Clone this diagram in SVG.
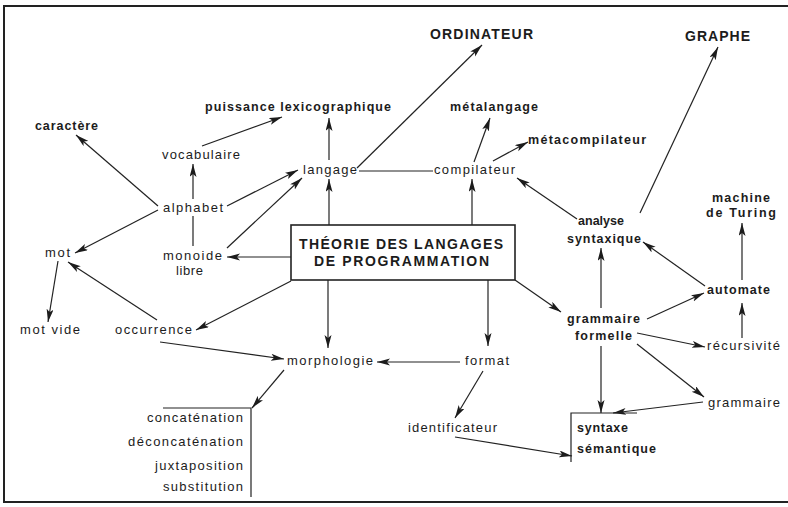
<svg xmlns="http://www.w3.org/2000/svg" width="788" height="507" viewBox="0 0 788 507">
<style>
  text { font-family: "Liberation Sans", Arial, sans-serif; font-size: 13px; fill: #1c1c1c; }
  .b { font-weight: bold; font-size: 12.5px; }
  .cap { font-weight: bold; font-size: 14px; }
  .c line, .c path { stroke: #222; stroke-width: 1.2; fill: none; }
  .a { marker-end: url(#ah); }
  .frame { stroke: #222; stroke-width: 2; fill: none; }
  .brk { stroke: #222; stroke-width: 1.2; fill: none; }
</style>
<defs>
  <marker id="ah" markerUnits="userSpaceOnUse" markerWidth="15" markerHeight="8" refX="13" refY="3.5" orient="auto">
    <path d="M0,0 L13,3.5 L0,7 L3,3.5 z" fill="#1c1c1c"/>
  </marker>
</defs>
<rect width="788" height="507" fill="#ffffff"/>
<path class="frame" d="M788,6 L4,6 L4,502 L788,502"/>

<g class="c" id="connectors">
  <line class="a" x1="357" y1="168" x2="482" y2="45"/>
  <line x1="359" y1="171" x2="433" y2="171"/>
  <line class="a" x1="329" y1="160" x2="329" y2="118"/>
  <line class="a" x1="202" y1="146" x2="282" y2="117"/>
  <line class="a" x1="158" y1="206" x2="76" y2="135"/>
  <line class="a" x1="158" y1="210" x2="75" y2="253"/>
  <line class="a" x1="193" y1="199" x2="193" y2="164"/>
  <line x1="193" y1="216" x2="193" y2="246"/>
  <line class="a" x1="227" y1="206" x2="298" y2="170"/>
  <line class="a" x1="227" y1="248" x2="302" y2="178"/>
  <line class="a" x1="291" y1="257" x2="227" y2="257"/>
  <line class="a" x1="329" y1="225" x2="329" y2="179"/>
  <line class="a" x1="472" y1="225" x2="472" y2="179"/>
  <line class="a" x1="474" y1="162" x2="490" y2="118"/>
  <line class="a" x1="493" y1="161" x2="528" y2="142"/>
  <line class="a" x1="577" y1="219" x2="517" y2="178"/>
  <line class="a" x1="640" y1="213" x2="718" y2="47"/>
  <line class="a" x1="291" y1="281" x2="196" y2="330"/>
  <line class="a" x1="157" y1="320" x2="68" y2="262"/>
  <line class="a" x1="58" y1="261" x2="48" y2="322"/>
  <line class="a" x1="160" y1="342" x2="284" y2="359"/>
  <line class="a" x1="328" y1="280" x2="328" y2="348"/>
  <line class="a" x1="460" y1="362" x2="377" y2="362"/>
  <line class="a" x1="488" y1="280" x2="488" y2="346"/>
  <line class="a" x1="515" y1="280" x2="561" y2="312"/>
  <line class="a" x1="284" y1="370" x2="252" y2="408"/>
  <line class="a" x1="483" y1="371" x2="455" y2="418"/>
  <line class="a" x1="455" y1="437" x2="572" y2="456"/>
  <line class="a" x1="601" y1="346" x2="601" y2="413"/>
  <line class="a" x1="703" y1="402" x2="613" y2="413"/>
  <line class="a" x1="637" y1="344" x2="704" y2="397"/>
  <line class="a" x1="637" y1="333" x2="705" y2="347"/>
  <line class="a" x1="647" y1="319" x2="704" y2="293"/>
  <line class="a" x1="705" y1="286" x2="643" y2="242"/>
  <line class="a" x1="601" y1="308" x2="601" y2="248"/>
  <line class="a" x1="742" y1="338" x2="742" y2="303"/>
  <line class="a" x1="742" y1="280" x2="742" y2="223"/>
</g>

<g id="ordinateur"><text class="cap" x="430" y="39" textLength="103">ORDINATEUR</text></g>
<g id="graphe"><text class="cap" x="685" y="41" textLength="65">GRAPHE</text></g>
<g id="puissance"><text class="b" x="205" y="111" textLength="186">puissance lexicographique</text></g>
<g id="caractere"><text class="b" x="35" y="130" textLength="63">caractère</text></g>
<g id="vocabulaire"><text x="162" y="159" textLength="78">vocabulaire</text></g>
<g id="metalangage"><text class="b" x="450" y="111" textLength="88">métalangage</text></g>
<g id="metacompilateur"><text class="b" x="528" y="144" textLength="118">métacompilateur</text></g>
<g id="langage"><text x="303" y="174" textLength="54">langage</text></g>
<g id="compilateur"><text x="434" y="174" textLength="81">compilateur</text></g>
<g id="alphabet"><text x="163" y="212" textLength="60">alphabet</text></g>
<g id="mot"><text x="45" y="257" textLength="25">mot</text></g>
<g id="monoide"><text x="163" y="260" textLength="59">monoide</text><text x="176" y="275" textLength="27">libre</text></g>
<g id="motvide"><text x="20" y="334" textLength="60">mot vide</text></g>
<g id="occurrence"><text x="115" y="334" textLength="77">occurrence</text></g>
<g id="theorie">
  <rect x="291" y="225" width="224" height="55" fill="#fff" stroke="#222" stroke-width="1.6"/>
  <text class="cap" x="299" y="249" textLength="204">THÉORIE DES LANGAGES</text>
  <text class="cap" x="314" y="266" textLength="175">DE PROGRAMMATION</text>
</g>
<g id="morphologie"><text x="287" y="365" textLength="86">morphologie</text></g>
<g id="format"><text x="465" y="365" textLength="44">format</text></g>
<g id="analyse"><text class="b" x="578" y="225" textLength="46">analyse</text><text class="b" x="567" y="243" textLength="74">syntaxique</text></g>
<g id="turing"><text class="b" x="712" y="202" textLength="58">machine</text><text class="b" x="706" y="217" textLength="70">de Turing</text></g>
<g id="automate"><text class="b" x="707" y="294" textLength="63">automate</text></g>
<g id="grammaireformelle"><text class="b" x="567" y="323" textLength="73">grammaire</text><text class="b" x="575" y="340" textLength="57">formelle</text></g>
<g id="recursivite"><text x="707" y="350" textLength="73">récursivité</text></g>
<g id="grammaire"><text x="708" y="407" textLength="72">grammaire</text></g>
<g id="syntaxe">
  <path class="brk" d="M637,413 L571,413 L571,462"/>
  <text class="b" x="577" y="432" textLength="51">syntaxe</text>
  <text class="b" x="577" y="453" textLength="79">sémantique</text>
</g>
<g id="identificateur"><text x="408" y="432" textLength="89">identificateur</text></g>
<g id="operations">
  <path class="brk" d="M163,408 L251,408 L251,497"/>
  <text x="147" y="422" textLength="96">concaténation</text>
  <text x="128" y="446" textLength="115">déconcaténation</text>
  <text x="155" y="470" textLength="88">juxtaposition</text>
  <text x="163" y="491" textLength="80">substitution</text>
</g>
</svg>
